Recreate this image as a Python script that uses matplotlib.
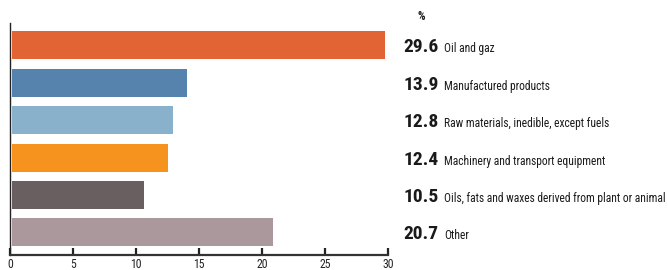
import matplotlib.pyplot as plt
from matplotlib import font_manager
from matplotlib.transforms import blended_transform_factory

# pick a condensed face if there is one
names = set(f.name for f in font_manager.fontManager.ttflist)
fam = 'DejaVu Sans'
for n in ['Liberation Sans Narrow', 'Roboto Condensed', 'Open Sans Condensed', 'Noto Sans Condensed']:
    if n in names:
        fam = n
        break
plt.rcParams['font.family'] = [fam, 'DejaVu Sans']
plt.rcParams['font.stretch'] = 'condensed'

categories = ['Oil and gaz', 'Manufactured products', 'Raw materials, inedible, except fuels',
              'Machinery and transport equipment', 'Oils, fats and waxes derived from plant or animal',
              'Other']
values = [29.6, 13.9, 12.8, 12.4, 10.5, 20.7]
colors = ['#E26435', '#5682AE', '#8AB1CB', '#F6921E', '#695F60', '#AA989C']
xticks = [0, 5, 10, 15, 20, 25, 30]

fig = plt.figure(figsize=(6.68, 2.7), dpi=100)
ax = fig.add_axes([0.015, 0.056, 0.566, 0.859])

ypos = list(range(len(values)))
ax.barh(ypos, values, height=0.75, color=colors, left=0.15)

ax.set_xlim(0, 30)
ax.set_ylim(len(values) - 0.4, -0.6)
ax.set_xticks(xticks)
ax.set_yticks([])
ax.tick_params(axis='x', direction='in', length=5, width=1.6, color='#222222',
               labelsize=8.5, pad=2, labelcolor='#222222')
for s in ['top', 'right']:
    ax.spines[s].set_visible(False)
ax.spines['bottom'].set_linewidth(1.6)
ax.spines['bottom'].set_color('#333333')
ax.spines['left'].set_linewidth(1.0)
ax.spines['left'].set_color('#222222')

tr = blended_transform_factory(ax.transAxes, ax.transData)
for i, (v, c) in enumerate(zip(values, categories)):
    ax.annotate(f'{v:.1f}', xy=(1, i), xycoords=tr, xytext=(15, -7), textcoords='offset pixels',
                fontsize=14, fontweight='bold', color='#1a1a1a', ha='left', va='baseline')
    ax.annotate(c, xy=(1, i), xycoords=tr, xytext=(56, -7), textcoords='offset pixels',
                fontsize=8.3, color='#1a1a1a', ha='left', va='baseline')

fig.text(418 / 668, 1 - 16 / 270, '%', fontsize=8.5, fontweight='bold', color='#1a1a1a',
         ha='left', va='center')

fig.savefig('out.png', dpi=100)
